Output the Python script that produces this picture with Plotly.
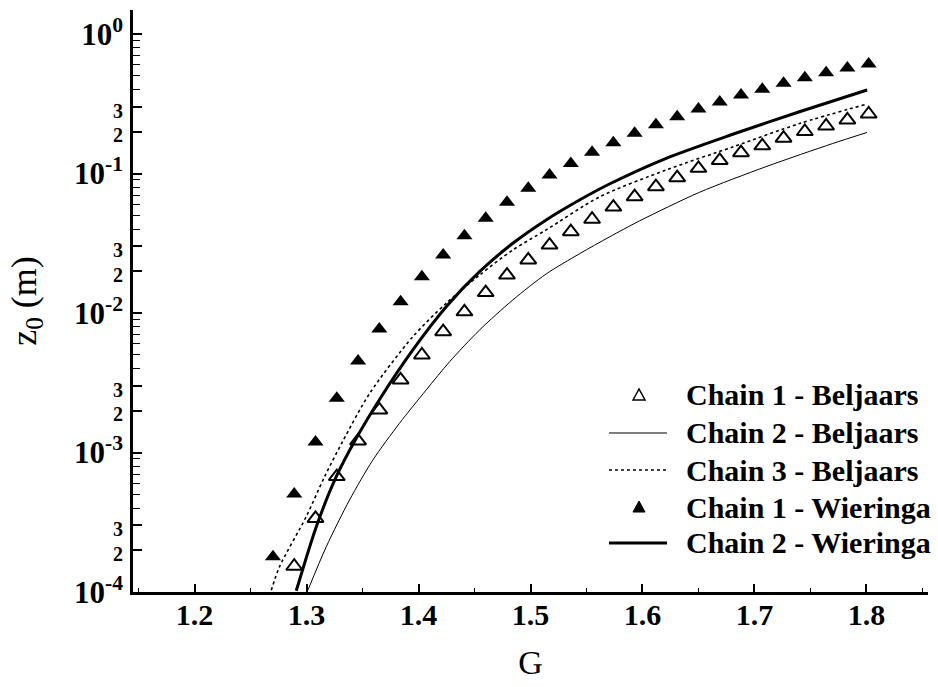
import plotly.graph_objects as go

# ---- data ----
G_wieringa_pts = [1.270, 1.289, 1.308, 1.327, 1.346, 1.365, 1.384, 1.403, 1.422, 1.441,
                  1.460, 1.479, 1.498, 1.517, 1.536, 1.555, 1.574, 1.593, 1.612, 1.631,
                  1.650, 1.669, 1.688, 1.707, 1.726, 1.745, 1.764, 1.783, 1.802]
z0_chain1_wieringa = [1.79e-4, 5.05e-4, 1.19e-3, 2.45e-3, 4.53e-3, 7.67e-3, 1.205e-2, 1.82e-2,
                      2.61e-2, 3.58e-2, 4.78e-2, 6.22e-2, 7.83e-2, 9.75e-2, 0.118, 0.142, 0.166,
                      0.194, 0.224, 0.255, 0.290, 0.326, 0.366, 0.402, 0.444, 0.486, 0.528,
                      0.570, 0.610]

G_beljaars_pts = [1.289, 1.308, 1.327, 1.346, 1.365, 1.384, 1.403, 1.422, 1.441, 1.460,
                  1.479, 1.498, 1.517, 1.536, 1.555, 1.574, 1.593, 1.612, 1.631, 1.650,
                  1.669, 1.688, 1.707, 1.726, 1.745, 1.764, 1.783, 1.802]
z0_chain1_beljaars = [1.53e-4, 3.37e-4, 6.72e-4, 1.21e-3, 2.02e-3, 3.31e-3, 5.00e-3, 7.35e-3,
                      1.02e-2, 1.40e-2, 1.87e-2, 2.40e-2, 3.07e-2, 3.83e-2, 4.70e-2, 5.75e-2,
                      6.82e-2, 8.04e-2, 9.33e-2, 0.109, 0.124, 0.141, 0.158, 0.179, 0.200,
                      0.219, 0.242, 0.267]

G_chain2_beljaars = [1.3012, 1.3176, 1.3384, 1.3592, 1.3830, 1.4069, 1.4277, 1.4545, 1.4842,
                     1.5140, 1.5438, 1.5705, 1.5973, 1.6509, 1.7104, 1.7699, 1.8006]
z0_chain2_beljaars = [1.03e-4, 2.11e-4, 4.57e-4, 8.83e-4, 1.62e-3, 2.81e-3, 4.47e-3, 7.55e-3,
                      1.24e-2, 1.905e-2, 2.66e-2, 3.51e-2, 4.57e-2, 7.33e-2, 0.112, 0.164, 0.197]

G_chain3_beljaars = [1.2685, 1.2759, 1.2997, 1.3161, 1.3324, 1.3563, 1.3949, 1.4247, 1.4545,
                     1.4842, 1.5140, 1.5616, 1.6212, 1.6806, 1.7402, 1.8006]
z0_chain3_beljaars = [1.03e-4, 1.52e-4, 3.47e-4, 6.71e-4, 1.208e-3, 2.65e-3, 6.76e-3, 1.175e-2,
                      1.87e-2, 2.83e-2, 3.94e-2, 6.79e-2, 0.106, 0.155, 0.228, 0.315]

G_chain2_wieringa = [1.2908, 1.3087, 1.3265, 1.3444, 1.3652, 1.3949, 1.4247, 1.4545, 1.4842,
                     1.5140, 1.5438, 1.5705, 1.6212, 1.6806, 1.7402, 1.8006]
z0_chain2_wieringa = [1.02e-4, 2.94e-4, 6.71e-4, 1.265e-3, 2.40e-3, 5.43e-3, 1.109e-2, 1.977e-2,
                      3.16e-2, 4.65e-2, 6.46e-2, 8.41e-2, 0.1285, 0.191, 0.277, 0.397]

series_names = ["Chain 1 - Beljaars", "Chain 2 - Beljaars", "Chain 3 - Beljaars",
                "Chain 1 - Wieringa", "Chain 2 - Wieringa"]

x_range = [1.145, 1.855]
x_tick_vals = [1.2, 1.3, 1.4, 1.5, 1.6, 1.7, 1.8]
x_tick_text = ["1.2", "1.3", "1.4", "1.5", "1.6", "1.7", "1.8"]

y_tick_vals = [1e-4, 2e-4, 3e-4, 1e-3, 2e-3, 3e-3, 1e-2, 2e-2, 3e-2, 1e-1, 2e-1, 3e-1, 1.0]
y_major_text = {1e-4: "-4", 1e-3: "-3", 1e-2: "-2", 1e-1: "-1", 1.0: "0"}
y_minor_text = {2e-4: "2", 3e-4: "3", 2e-3: "2", 3e-3: "3", 2e-2: "2", 3e-2: "3",
                2e-1: "2", 3e-1: "3"}

# ---- figure ----
SERIF = "Liberation Serif, Times New Roman, serif"

y_tick_text = []
for v in y_tick_vals:
    if v in y_major_text:
        y_tick_text.append("10<sup>%s</sup>" % y_major_text[v])
    else:
        y_tick_text.append("<span style='font-size:20px'>%s</span>" % y_minor_text[v])

fig = go.Figure()
fig.add_trace(go.Scatter(
    x=G_beljaars_pts, y=z0_chain1_beljaars, mode="markers", name=series_names[0],
    marker=dict(symbol="triangle-up-open", size=14, color="black", line=dict(width=2, color="black"))))
fig.add_trace(go.Scatter(
    x=G_chain2_beljaars, y=z0_chain2_beljaars, mode="lines", name=series_names[1],
    line=dict(color="black", width=1, shape="spline", smoothing=0.8)))
fig.add_trace(go.Scatter(
    x=G_chain3_beljaars, y=z0_chain3_beljaars, mode="lines", name=series_names[2],
    line=dict(color="black", width=1.6, dash="dot", shape="spline", smoothing=0.8)))
# this series is drawn on x2 (which matches x exactly) so that the labelled axis is rendered
fig.add_trace(go.Scatter(
    x=G_wieringa_pts, y=z0_chain1_wieringa, mode="markers", name=series_names[3],
    xaxis="x2", yaxis="y",
    marker=dict(symbol="triangle-up", size=14, color="black")))
fig.add_trace(go.Scatter(
    x=G_chain2_wieringa, y=z0_chain2_wieringa, mode="lines", name=series_names[4],
    line=dict(color="black", width=3, shape="spline", smoothing=0.8)))

# ---- legend drawn as annotations + shapes (paper coordinates) ----
leg_rows_y = [0.3385, 0.2732, 0.2096, 0.1460, 0.0842]
leg_line_x0, leg_line_x1, leg_sym_x, leg_text_x = 0.5987, 0.6717, 0.6365, 0.6931
tri_path = "M-6,-5 L6,-5 L0,6 Z"
shapes = []
annotations = []
for i, (name, yy) in enumerate(zip(series_names, leg_rows_y)):
    annotations.append(dict(
        x=leg_text_x, y=yy, xref="paper", yref="paper", xanchor="left", yanchor="middle",
        text=name, showarrow=False,
        font=dict(family=SERIF, size=30, color="black", weight="bold")))
    if i == 0:
        shapes.append(dict(type="path", xref="paper", yref="paper", xsizemode="pixel",
                           ysizemode="pixel", xanchor=leg_sym_x, yanchor=yy, path=tri_path,
                           line=dict(color="black", width=1.5), fillcolor="rgba(0,0,0,0)"))
    elif i == 3:
        shapes.append(dict(type="path", xref="paper", yref="paper", xsizemode="pixel",
                           ysizemode="pixel", xanchor=leg_sym_x, yanchor=yy, path=tri_path,
                           line=dict(color="black", width=1), fillcolor="black"))
    else:
        style = {1: dict(width=1, dash="solid"), 2: dict(width=1.5, dash="dot"),
                 4: dict(width=3, dash="solid")}[i]
        shapes.append(dict(type="line", xref="paper", yref="paper",
                           x0=leg_line_x0, x1=leg_line_x1, y0=yy, y1=yy,
                           line=dict(color="black", **style)))

fig.update_layout(
    width=938, height=687,
    margin=dict(l=133, r=10, t=10, b=95, autoexpand=False),
    paper_bgcolor="white", plot_bgcolor="white",
    font=dict(family=SERIF, color="black"),
    showlegend=False,
    shapes=shapes,
    annotations=annotations,
    xaxis=dict(
        range=x_range, showline=True, linecolor="black", linewidth=2.5,
        mirror=False, showgrid=False, zeroline=False, automargin=False,
        tickmode="array", tickvals=x_tick_vals, ticktext=x_tick_text,
        ticks="inside", ticklen=8, tickwidth=1.5, tickcolor="black",
        showticklabels=False,
        minor=dict(dtick=0.05, tick0=1.15, ticks="inside", ticklen=4, tickwidth=1.2,
                   tickcolor="black", showgrid=False),
    ),
    # companion axis carrying the tick labels
    xaxis2=dict(
        overlaying="x", matches="x", range=x_range, anchor="free", position=0,
        side="bottom", showline=False, showgrid=False, zeroline=False, automargin=False,
        tickmode="array", tickvals=x_tick_vals, ticktext=x_tick_text, ticks="",
        ticklabelstandoff=2,
        tickfont=dict(family=SERIF, size=30, weight="bold", color="black"),
        title=dict(text="G", font=dict(family=SERIF, size=34, color="black"), standoff=20),
    ),
    yaxis=dict(
        type="log", range=[-4, 0.172], showline=True, linecolor="black", linewidth=2.5,
        mirror=False, showgrid=False, zeroline=False, automargin=False,
        tickmode="array", tickvals=y_tick_vals, ticktext=y_tick_text,
        ticks="inside", ticklen=9, tickwidth=1.5, tickcolor="black",
        tickfont=dict(family=SERIF, size=31, weight="bold", color="black"),
        ticklabelstandoff=1,
        minor=dict(dtick="D1", ticks="inside", ticklen=7, tickwidth=1.2,
                   tickcolor="black", showgrid=False),
        title=dict(text="z<sub>0</sub> (m)", font=dict(family=SERIF, size=36, color="black"),
                   standoff=27),
    ),
)

fig.write_html("out.html", config={"displayModeBar": False},
               post_script="document.body.style.margin='0px';document.body.style.overflow='hidden';")
